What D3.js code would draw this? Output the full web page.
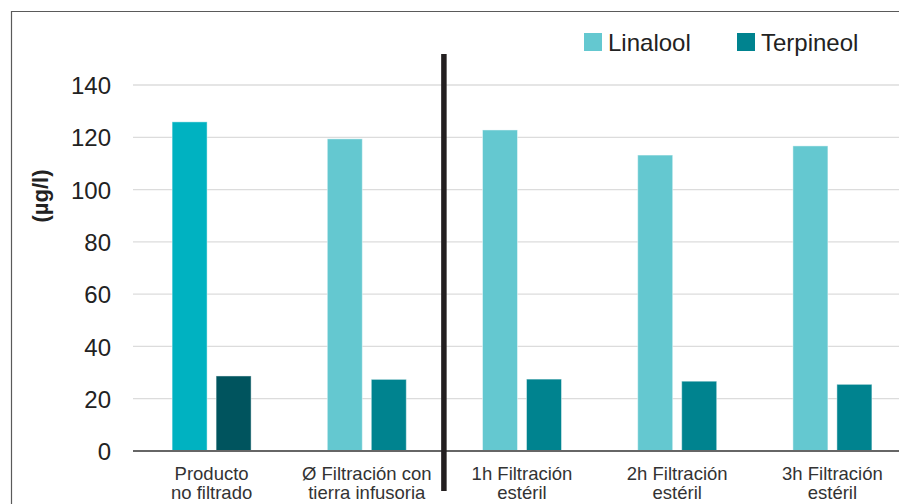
<!DOCTYPE html>
<html>
<head>
<meta charset="utf-8">
<script src="https://cdn.jsdelivr.net/npm/d3@7/dist/d3.min.js"></script>
<style>
  html, body { margin: 0; padding: 0; background: #fff; }
  svg { display: block; font-family: "Liberation Sans", Arial, Helvetica, sans-serif; }
</style>
</head>
<body>
<svg id="chart" width="899" height="504"></svg>
<script>
// Category labels (two lines each)
const categories = [
  ["Producto", "no filtrado"],
  ["Ø Filtración con", "tierra infusoria"],
  ["1h Filtración", "estéril"],
  ["2h Filtración", "estéril"],
  ["3h Filtración", "estéril"]
];
const seriesNames = ["Linalool", "Terpineol"];
const linalool = [125.9, 119.4, 122.8, 113.2, 116.7];
const terpineol = [28.7, 27.4, 27.5, 26.7, 25.5];
const yTicks = [0, 20, 40, 60, 80, 100, 120, 140];
const yTitle = "(µg/l)";

// Colours: the reference (unfiltered) group uses its own stronger shades
const seriesColor = { Linalool: "#64c8d0", Terpineol: "#00838f" };
const firstGroupColor = { Linalool: "#00b2c1", Terpineol: "#00545e" };

const svg = d3.select("#chart");
const W = 899, H = 504;

const plot = { left: 134, right: 910, top: 85, bottom: 451 };

const catKeys = categories.map(c => c.join(" "));
const x = d3.scaleBand().domain(catKeys).range([plot.left, plot.right]).paddingInner(0).paddingOuter(0);
const xSub = d3.scaleBand().domain(seriesNames).range([-39.5, 39.5]).paddingInner(9 / 44).paddingOuter(0);
const y = d3.scaleLinear().domain([0, 140]).range([plot.bottom, plot.top]);

// Outer frame (left and top edges)
svg.append("path")
  .attr("d", `M11.5,${H} L11.5,11.5 L${W},11.5`)
  .attr("fill", "none").attr("stroke", "#5a5a5a").attr("stroke-width", 1.2);

// Horizontal gridlines
svg.append("g")
  .selectAll("line")
  .data(yTicks.filter(t => t !== 0))
  .join("line")
  .attr("x1", 133).attr("x2", W)
  .attr("y1", d => y(d)).attr("y2", d => y(d))
  .attr("stroke", "#dcdcdc").attr("stroke-width", 1.3);

// Y axis tick labels
const yAxis = d3.axisLeft(y).tickValues(yTicks).tickSize(0).tickPadding(0);
const yg = svg.append("g").attr("transform", "translate(111,0)").call(yAxis);
yg.select(".domain").remove();
yg.selectAll("text")
  .attr("font-size", 24)
  .attr("fill", "#222")
  .attr("font-family", "Liberation Sans, Arial, sans-serif")
  .attr("dy", "0.36em");

// Y axis title
svg.append("text")
  .attr("transform", "translate(48,196) rotate(-90)")
  .attr("text-anchor", "middle")
  .attr("font-size", 22)
  .attr("font-weight", "bold")
  .attr("fill", "#222")
  .text(yTitle);

// Bars
const rows = catKeys.map((k, i) => ({ key: k, i, values: [
  { name: "Linalool", v: linalool[i] },
  { name: "Terpineol", v: terpineol[i] }
]}));

const groups = svg.append("g").selectAll("g")
  .data(rows)
  .join("g")
  .attr("transform", d => `translate(${x(d.key) + x.bandwidth() / 2},0)`);

groups.selectAll("rect")
  .data(d => d.values.map(v => ({ ...v, i: d.i })))
  .join("rect")
  .attr("x", d => xSub(d.name))
  .attr("width", xSub.bandwidth())
  .attr("y", d => y(d.v))
  .attr("height", d => y(0) - y(d.v))
  .attr("fill", d => d.i === 0 ? firstGroupColor[d.name] : seriesColor[d.name])
  .attr("stroke", "rgba(255,255,255,0.45)")
  .attr("stroke-width", 1);

// Baseline
svg.append("line")
  .attr("x1", 133).attr("x2", W)
  .attr("y1", y(0)).attr("y2", y(0))
  .attr("stroke", "#666").attr("stroke-width", 2);

// Category labels
const xg = svg.append("g");
categories.forEach((lines, i) => {
  const t = xg.append("text")
    .attr("x", x(catKeys[i]) + x.bandwidth() / 2)
    .attr("text-anchor", "middle")
    .attr("font-size", 18.5)
    .attr("fill", "#333");
  lines.forEach((ln, j) => {
    t.append("tspan")
      .attr("x", x(catKeys[i]) + x.bandwidth() / 2)
      .attr("y", 480 + j * 18.5)
      .text(ln);
  });
});

// Divider between the pre-filtration and sterile filtration groups
const divX = (x(catKeys[1]) + x.bandwidth() + x(catKeys[2])) / 2 - 0.5;
svg.append("line")
  .attr("x1", divX).attr("x2", divX)
  .attr("y1", 54).attr("y2", 491)
  .attr("stroke", "#231f20").attr("stroke-width", 5.5);

// Legend
const legendX = [584, 737];
const legend = svg.append("g").selectAll("g")
  .data(seriesNames)
  .join("g")
  .attr("transform", (d, i) => `translate(${legendX[i]},33)`);
legend.append("rect")
  .attr("width", 18).attr("height", 18)
  .attr("fill", d => seriesColor[d]);
legend.append("text")
  .attr("x", 24).attr("y", 18)
  .attr("font-size", 24)
  .attr("fill", "#222")
  .text(d => d);
</script>
</body>
</html>
